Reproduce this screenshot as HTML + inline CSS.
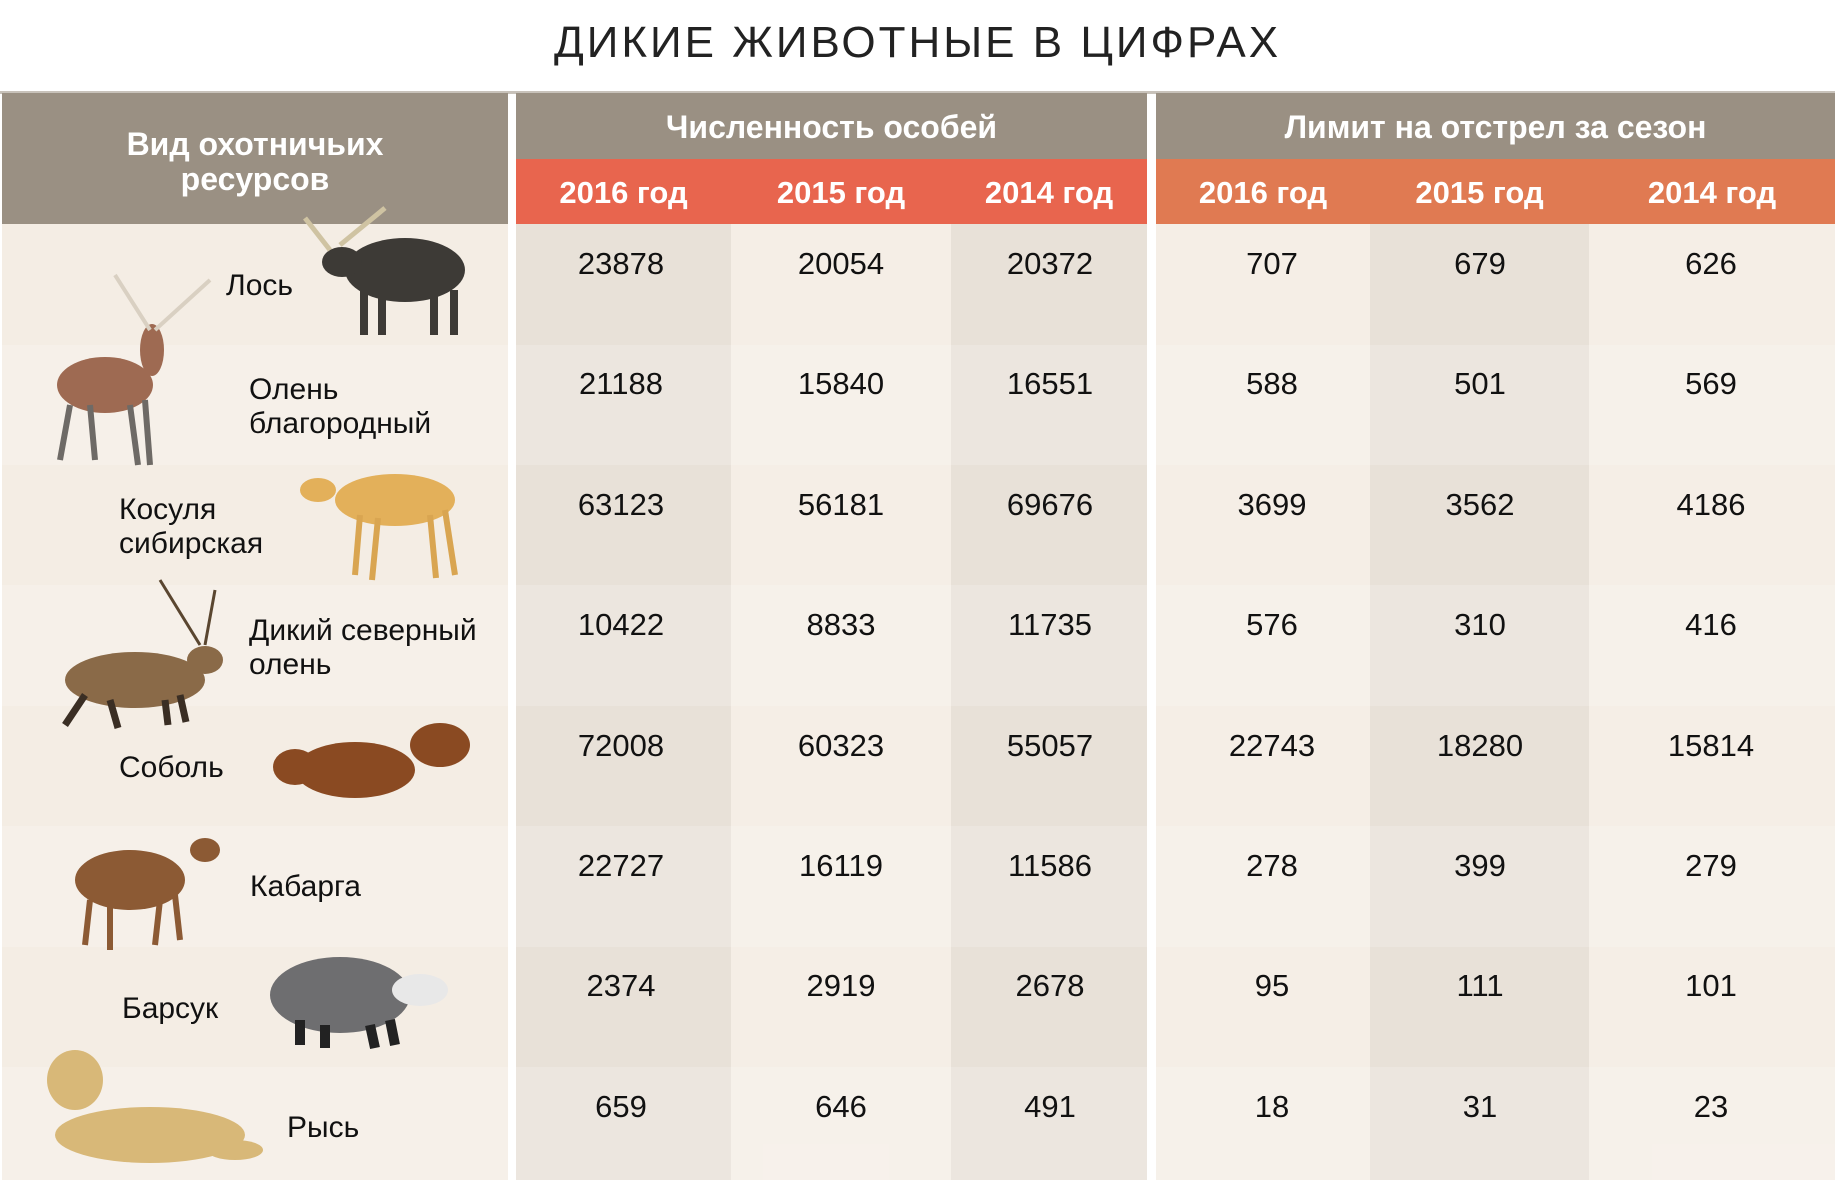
<!DOCTYPE html>
<html><head><meta charset="utf-8"><style>
*{margin:0;padding:0;box-sizing:border-box}
body{width:1835px;height:1180px;background:#fff;position:relative;overflow:hidden;font-family:"Liberation Sans",sans-serif}
.a{position:absolute}
.t{position:absolute;left:0;width:1835px;top:18px;text-align:center;font-size:44px;letter-spacing:3px;color:#222;font-weight:normal}
.hd{color:#fff;font-weight:bold;text-align:center;position:absolute}
.n{position:absolute;font-size:31px;color:#111;text-align:center}
.lb{position:absolute;font-size:30px;color:#111;line-height:34px}
</style></head><body>
<div class="t">ДИКИЕ ЖИВОТНЫЕ В ЦИФРАХ</div>
<div class="a" style="left:0;top:91px;width:1835px;height:3px;background:#c8c2ba"></div>
<div class="a" style="left:2px;top:93px;width:506px;height:131px;background:#9a9083"></div>
<div class="a" style="left:516px;top:93px;width:631px;height:66px;background:#9a9083"></div>
<div class="a" style="left:1156px;top:93px;width:679px;height:66px;background:#9a9083"></div>
<div class="a" style="left:516px;top:159px;width:631px;height:65px;background:#e8654e"></div>
<div class="a" style="left:1156px;top:159px;width:679px;height:65px;background:#e07a52"></div>
<div class="hd" style="left:2px;width:506px;top:127px;font-size:32px;line-height:35px">Вид охотничьих<br>ресурсов</div>
<div class="hd" style="left:516px;width:631px;top:109px;font-size:32px">Численность особей</div>
<div class="hd" style="left:1156px;width:679px;top:109px;font-size:32px">Лимит на отстрел за сезон</div>
<div class="hd" style="left:516px;width:215px;top:175px;font-size:31px">2016 год</div>
<div class="hd" style="left:731px;width:220px;top:175px;font-size:31px">2015 год</div>
<div class="hd" style="left:951px;width:196px;top:175px;font-size:31px">2014 год</div>
<div class="hd" style="left:1156px;width:214px;top:175px;font-size:31px">2016 год</div>
<div class="hd" style="left:1370px;width:219px;top:175px;font-size:31px">2015 год</div>
<div class="hd" style="left:1589px;width:246px;top:175px;font-size:31px">2014 год</div>
<div class="a" style="left:2px;top:224px;width:506px;height:956px;background:#f4ede4"></div>
<div class="a" style="left:516px;top:224px;width:215px;height:956px;background:#e8e1d8"></div>
<div class="a" style="left:731px;top:224px;width:220px;height:956px;background:#f5eee6"></div>
<div class="a" style="left:951px;top:224px;width:196px;height:956px;background:#e8e1d8"></div>
<div class="a" style="left:1156px;top:224px;width:214px;height:956px;background:#f5eee6"></div>
<div class="a" style="left:1370px;top:224px;width:219px;height:956px;background:#e8e1d8"></div>
<div class="a" style="left:1589px;top:224px;width:246px;height:956px;background:#f5eee6"></div>
<div class="a" style="left:0;top:345px;width:1835px;height:120px;background:rgba(255,255,255,0.18)"></div>
<div class="a" style="left:0;top:585px;width:1835px;height:121px;background:rgba(255,255,255,0.18)"></div>
<div class="a" style="left:0;top:826px;width:1835px;height:121px;background:rgba(255,255,255,0.18)"></div>
<div class="a" style="left:0;top:1067px;width:1835px;height:113px;background:rgba(255,255,255,0.18)"></div>

<div id="nums"></div>
<script>
var d=[["23878","20054","20372","707","679","626"],["21188","15840","16551","588","501","569"],["63123","56181","69676","3699","3562","4186"],["10422","8833","11735","576","310","416"],["72008","60323","55057","22743","18280","15814"],["22727","16119","11586","278","399","279"],["2374","2919","2678","95","111","101"],["659","646","491","18","31","23"]];
var cx=[621,841,1050,1272,1480,1711],h="";
for(var r=0;r<8;r++){var y=246+r*120.4;for(var c=0;c<6;c++)h+='<div class="n" style="left:'+(cx[c]-100)+'px;width:200px;top:'+y+'px">'+d[r][c]+'</div>';}
document.getElementById('nums').innerHTML=h;
</script>

<svg class="a" style="left:0;top:200px" width="508" height="980">
<g fill="#3d3a36"><ellipse cx="405" cy="70" rx="60" ry="32"/><ellipse cx="342" cy="62" rx="20" ry="15"/><rect x="360" y="90" width="8" height="45"/><rect x="378" y="90" width="8" height="45"/><rect x="430" y="90" width="8" height="45"/><rect x="450" y="90" width="8" height="45"/></g>
<g stroke="#cfc3a2" stroke-width="5" fill="none"><path d="M330 50 L305 18 M340 45 L385 8"/></g>
<g fill="#9e6a52"><ellipse cx="105" cy="185" rx="48" ry="28"/><ellipse cx="152" cy="150" rx="12" ry="26"/></g>
<g stroke="#6e6a66" stroke-width="6"><path d="M70 205 L60 260 M90 205 L95 260 M130 205 L138 265 M145 200 L150 265"/></g>
<g stroke="#d9d0c2" stroke-width="4" fill="none"><path d="M150 130 L115 75 M155 130 L210 80"/></g>
<g fill="#e3b05a"><ellipse cx="395" cy="300" rx="60" ry="26"/><ellipse cx="318" cy="290" rx="18" ry="12"/></g>
<g stroke="#d9a551" stroke-width="6"><path d="M360 315 L355 375 M378 318 L372 380 M430 315 L436 378 M445 310 L455 375"/></g>
<g fill="#8a6a48"><ellipse cx="135" cy="480" rx="70" ry="28"/><ellipse cx="205" cy="460" rx="18" ry="14"/></g>
<g stroke="#3a2e24" stroke-width="7"><path d="M85 495 L65 525 M110 500 L118 528 M165 500 L168 525 M180 495 L186 522"/></g>
<g stroke="#5a4630" stroke-width="3" fill="none"><path d="M200 445 L160 380 M205 445 L215 390"/></g>
<g fill="#8a4a22"><ellipse cx="355" cy="570" rx="60" ry="28"/><ellipse cx="295" cy="567" rx="22" ry="18"/><ellipse cx="440" cy="545" rx="30" ry="22"/></g>
<g fill="#8c5a34"><ellipse cx="130" cy="680" rx="55" ry="30"/><ellipse cx="205" cy="650" rx="15" ry="12"/></g>
<g stroke="#8c5a34" stroke-width="6"><path d="M90 700 L85 745 M110 705 L110 750 M160 700 L155 745 M175 695 L180 740"/></g>
<g fill="#6e6e70"><ellipse cx="340" cy="795" rx="70" ry="38"/><ellipse cx="420" cy="790" rx="28" ry="16" fill="#e8e8e8"/></g>
<g stroke="#222" stroke-width="10"><path d="M300 820 L300 845 M325 825 L325 848 M370 825 L375 848 M390 820 L395 845"/></g>
<g fill="#d8b878"><ellipse cx="150" cy="935" rx="95" ry="28"/><ellipse cx="75" cy="880" rx="28" ry="30"/><ellipse cx="235" cy="950" rx="28" ry="10"/></g>
</svg>

<div class="lb" style="left:226px;top:269px">Лось</div>
<div class="lb" style="left:249px;top:373px">Олень<br>благородный</div>
<div class="lb" style="left:119px;top:493px">Косуля<br>сибирская</div>
<div class="lb" style="left:249px;top:614px">Дикий северный<br>олень</div>
<div class="lb" style="left:119px;top:751px">Соболь</div>
<div class="lb" style="left:250px;top:870px">Кабарга</div>
<div class="lb" style="left:122px;top:992px">Барсук</div>
<div class="lb" style="left:287px;top:1111px">Рысь</div>
</body></html>
